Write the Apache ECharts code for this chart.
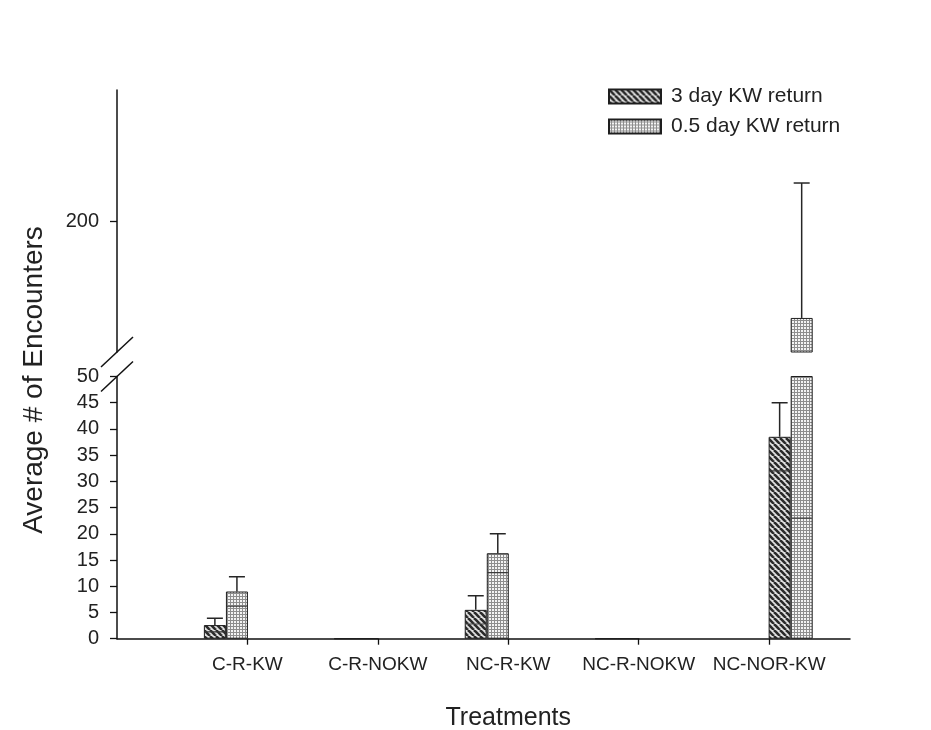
<!DOCTYPE html>
<html>
<head>
<meta charset="utf-8">
<script src="https://cdn.jsdelivr.net/npm/echarts@6/dist/echarts.min.js"></script>
<style>
  html, body { margin: 0; padding: 0; background: #ffffff; }
  #chart { width: 931px; height: 730px; }
</style>
</head>
<body>
<div id="chart"></div>
<script>
// ---- data ----
const categories = ['C-R-KW', 'C-R-NOKW', 'NC-R-KW', 'NC-R-NOKW', 'NC-NOR-KW'];
const seriesNames = ['3 day KW return', '0.5 day KW return'];
const mean3Day = [2.6, 0, 5.5, 0, 38.5];
const se3Day = [1.3, 0, 2.7, 0, 6.5];
const mean05Day = [9.0, 0, 16.3, 0, 126];
const se05Day = [2.8, 0, 3.7, 0, 103];
const lowerTickLabels = [0, 5, 10, 15, 20, 25, 30, 35, 40, 45, 50];
const upperTickLabels = [200];

// ---- layout ----
const FONT = '"Liberation Sans", Arial, Helvetica, sans-serif';
const groupShift = [-0.165, -0.165, -0.165, -0.165, 0.165]; // group offset from each tick, in category units
const barHalf = 0.0845;                                      // half a bar, in category units
const BAR_W = 22;
const lowerRange = [0, 50];
const upperRange = [100, 300];
const xRange = [-1, 4.62];

function makePattern(size, draw) {
  const c = document.createElement('canvas');
  c.width = size; c.height = size;
  draw(c.getContext('2d'), size);
  return { image: c, repeat: 'repeat' };
}
// diagonal hatch
const hatchFill = makePattern(6, (g, n) => {
  g.fillStyle = '#e2e2e2'; g.fillRect(0, 0, n, n);
  g.strokeStyle = '#2a2a2a'; g.lineWidth = 2.6;
  for (const o of [-n, 0, n]) {
    g.beginPath(); g.moveTo(o, 0); g.lineTo(o + n, n); g.stroke();
  }
});
// fine grid / dotted fill
const dotFill = makePattern(3, (g, n) => {
  g.fillStyle = '#8e8e8e'; g.fillRect(0, 0, n, n);
  g.fillStyle = '#f4f4f4'; g.fillRect(0, 0, 2, 2);
});

const fills = [hatchFill, dotFill];
const means = [mean3Day, mean05Day];
const ses = [se3Day, se05Day];

function xPos(i, side) { return i + groupShift[i] + (side === 0 ? -barHalf : barHalf); }

function barData(s) { return categories.map((_, i) => [xPos(i, s), means[s][i]]); }
function errData(s) { return categories.map((_, i) => [xPos(i, s), means[s][i], ses[s][i]]); }

function renderErr(params, api) {
  const x = api.value(0), m = api.value(1), s = api.value(2);
  if (!s) return null;
  const cs = params.coordSys;
  const yMin = cs.y, yMax = cs.y + cs.height;
  const top = api.coord([x, m + s]);
  const mid = api.coord([x, m]);
  const low = api.coord([x, m - s]);
  const st = { stroke: '#262626', lineWidth: 1.5 };
  const kids = [];
  const y1 = Math.min(Math.max(mid[1], yMin), yMax);
  const y2 = Math.min(Math.max(top[1], yMin), yMax);
  if (y1 !== y2) kids.push({ type: 'line', shape: { x1: top[0], y1: y1, x2: top[0], y2: y2 }, style: st });
  if (top[1] >= yMin && top[1] <= yMax)
    kids.push({ type: 'line', shape: { x1: top[0] - 8, y1: top[1], x2: top[0] + 8, y2: top[1] }, style: st });
  if (low[1] >= yMin && low[1] <= yMax)
    kids.push({ type: 'line', shape: { x1: low[0] - 10, y1: low[1], x2: low[0] + 10, y2: low[1] }, style: { stroke: '#3a3a3a', lineWidth: 1.1 } });
  return { type: 'group', children: kids };
}

const axisLineStyle = { color: '#111', width: 1.5 };
const labelStyle = { color: '#222', fontFamily: FONT, fontSize: 19 };

const series = [];
[1, 0].forEach(g => {           // g = grid index: 0 upper, 1 lower
  seriesNames.forEach((name, s) => {
    series.push({
      name: name, type: 'bar', xAxisIndex: g, yAxisIndex: g,
      barWidth: BAR_W, barGap: '-100%', clip: true,
      itemStyle: { color: fills[s], borderColor: '#1e1e1e', borderWidth: 1 },
      emphasis: { disabled: true },
      data: barData(s)
    });
  });
  seriesNames.forEach((name, s) => {
    series.push({
      name: name, type: 'custom', xAxisIndex: g, yAxisIndex: g, clip: true, z: 5,
      renderItem: renderErr, data: errData(s)
    });
  });
});

const chart = echarts.init(document.getElementById('chart'), null, { renderer: 'canvas' });
chart.setOption({
  animation: false,
  backgroundColor: '#ffffff',
  legend: {
    data: seriesNames, orient: 'vertical', left: 608, top: 86, padding: 0,
    itemWidth: 52, itemHeight: 14, itemGap: 9, icon: 'rect',
    textStyle: { color: '#222', fontFamily: FONT, fontSize: 21, padding: [0, 0, 0, 5] }
  },
  grid: [
    { left: 117, top: 90, width: 733, height: 262 },
    { left: 117, top: 376.5, width: 733, height: 262.2 }
  ],
  xAxis: [
    { type: 'value', gridIndex: 0, min: xRange[0], max: xRange[1], show: false },
    {
      type: 'value', gridIndex: 1, min: xRange[0], max: xRange[1], interval: 1,
      splitLine: { show: false },
      axisLine: { show: true, onZero: false, lineStyle: axisLineStyle },
      axisTick: { show: true, length: 6, lineStyle: { color: '#111', width: 1.3 }, customValues: categories.map((_, i) => i) },
      axisLabel: Object.assign({}, labelStyle, {
        margin: 17,
        customValues: categories.map((_, i) => i),
        formatter: v => categories[Math.round(v)] || ''
      })
    }
  ],
  yAxis: [
    {
      type: 'value', gridIndex: 0, min: upperRange[0], max: upperRange[1],
      splitLine: { show: false },
      axisLine: { show: true, onZero: false, lineStyle: axisLineStyle },
      axisTick: { show: true, length: 7, lineStyle: { color: '#111', width: 1.3 }, customValues: upperTickLabels },
      axisLabel: Object.assign({}, labelStyle, { fontSize: 20, margin: 18, customValues: upperTickLabels })
    },
    {
      type: 'value', gridIndex: 1, min: lowerRange[0], max: lowerRange[1], interval: 5,
      splitLine: { show: false },
      axisLine: { show: true, onZero: false, lineStyle: axisLineStyle },
      axisTick: { show: true, length: 7, lineStyle: { color: '#111', width: 1.3 }, customValues: lowerTickLabels },
      axisLabel: Object.assign({}, labelStyle, { fontSize: 20, margin: 18, customValues: lowerTickLabels })
    }
  ],
  series: series
});

// axis break marks and axis titles
const axisX = chart.convertToPixel({ xAxisIndex: 1 }, xRange[0]);
const breakTop = chart.convertToPixel({ yAxisIndex: 0 }, upperRange[0]);
const breakLow = chart.convertToPixel({ yAxisIndex: 1 }, lowerRange[1]);
const slash = y => ({
  type: 'line', z: 100,
  shape: { x1: axisX - 16, y1: y + 15, x2: axisX + 16, y2: y - 15 },
  style: { stroke: '#111', lineWidth: 1.5 }
});
const midX = chart.convertToPixel({ xAxisIndex: 1 }, 2);
chart.setOption({
  graphic: [
    slash(breakTop), slash(breakLow),
    {
      type: 'text', x: 34, y: 380, rotation: Math.PI / 2,
      style: { text: 'Average # of Encounters', fill: '#222', font: '28px ' + FONT, align: 'center', verticalAlign: 'middle' }
    },
    {
      type: 'text', x: midX, y: 718,
      style: { text: 'Treatments', fill: '#222', font: '25px ' + FONT, align: 'center', verticalAlign: 'middle' }
    }
  ]
});
</script>
</body>
</html>
